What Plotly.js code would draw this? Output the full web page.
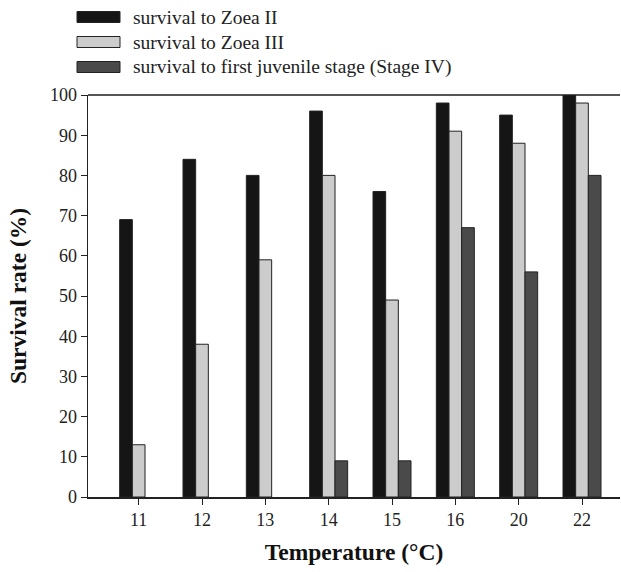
<!DOCTYPE html>
<html>
<head>
<meta charset="utf-8">
<script src="https://cdn.plot.ly/plotly-3.0.1.min.js"></script>
<style>html,body{margin:0;padding:0;background:#fff;}#chart{width:621px;height:572px;}</style>
</head>
<body>
<div id="chart"></div>
<script>
const temperatures = ["11", "12", "13", "14", "15", "16", "20", "22"];
const seriesNames = ["survival to Zoea II", "survival to Zoea III", "survival to first juvenile stage (Stage IV)"];
const zoeaII = [69, 84, 80, 96, 76, 98, 95, 100];
const zoeaIII = [13, 38, 59, 80, 49, 91, 88, 98];
const stageIV = [0, 0, 0, 9, 9, 67, 56, 80];
const colors = ["#151515", "#cccccc", "#4a4a4a"];

const serif = "'Liberation Serif', 'Times New Roman', serif";
const allValues = [zoeaII, zoeaIII, stageIV];

const traces = allValues.map((vals, i) => ({
  type: "bar",
  name: seriesNames[i],
  x: temperatures,
  y: vals,
  marker: {color: colors[i], line: {color: "#222", width: vals.map(v => v > 0 ? 1 : 0)}},
  showlegend: false,
  hoverinfo: "x+y"
}));

const figH = 572, mTop = 95, mBottom = 75;
const plotH = figH - mTop - mBottom;
const figW = 621, mLeft = 88, mRight = 1;
const plotW = figW - mLeft - mRight;
function px2paperX(px){ return (px - mLeft) / plotW; }
function px2paperY(py){ return (figH - mBottom - py) / plotH; }

// custom legend (swatches + labels) in paper coordinates
const shapes = [
  {type: "line", xref: "paper", yref: "paper", x0: 0, x1: 1, y0: 1, y1: 1,
   line: {color: "#555", width: 2}, layer: "below"}
];
const annotations = [];
const legendY = [17, 42, 67];
seriesNames.forEach((name, i) => {
  const cy = legendY[i];
  shapes.push({type: "rect", xref: "paper", yref: "paper",
    x0: px2paperX(77), x1: px2paperX(120), y0: px2paperY(cy + 5.5), y1: px2paperY(cy - 5.5),
    fillcolor: colors[i], line: {color: "#222", width: 1}});
  annotations.push({xref: "paper", yref: "paper", x: px2paperX(131), y: px2paperY(cy),
    xanchor: "left", yanchor: "middle", text: name, showarrow: false,
    font: {family: serif, size: 19.5, color: "#222"}});
});

const layout = {
  width: figW, height: figH,
  margin: {l: mLeft, r: mRight, t: mTop, b: mBottom, pad: 0},
  paper_bgcolor: "#fff", plot_bgcolor: "#fff",
  barmode: "group", bargap: 0.4, bargroupgap: 0,
  font: {family: serif, color: "#222", size: 18},
  xaxis: {
    type: "category", range: [-0.8, 7.6],
    showline: true, linecolor: "#222", linewidth: 1.5,
    ticks: "outside", ticklen: 6, tickcolor: "#222", tickwidth: 1,
    showgrid: false, zeroline: false,
    tickfont: {family: serif, size: 18, color: "#222"},
    title: {text: "<b>Temperature (°C)</b>", font: {family: serif, size: 23.5, color: "#111"}, standoff: 14}
  },
  yaxis: {
    range: [0, 100], dtick: 10, tick0: 0,
    showline: true, linecolor: "#222", linewidth: 1.5,
    ticks: "outside", ticklen: 6, tickcolor: "#222", tickwidth: 1,
    showgrid: false, zeroline: false,
    tickfont: {family: serif, size: 18, color: "#222"},
    title: {text: "<b>Survival rate (%)</b>", font: {family: serif, size: 23.5, color: "#111"}, standoff: 16}
  },
  shapes: shapes,
  annotations: annotations
};

Plotly.newPlot("chart", traces, layout, {displayModeBar: false, staticPlot: true});
</script>
</body>
</html>
